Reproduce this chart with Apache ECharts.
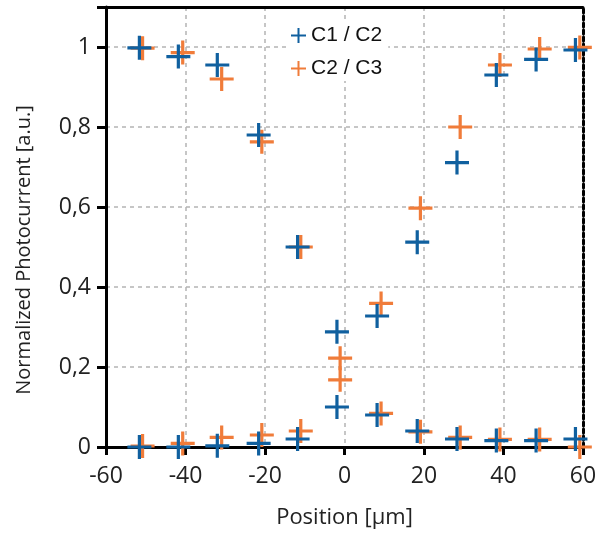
<!DOCTYPE html>
<html>
<head>
<meta charset="utf-8">
<script src="https://cdn.jsdelivr.net/npm/echarts@6/dist/echarts.min.js"></script>
<style>
html,body{margin:0;padding:0;background:#fff;}
#chart{width:606px;height:535px;}
</style>
</head>
<body>
<div id="chart"></div>
<script>
// ---- data ----
const seriesNames = ['C1 / C2', 'C2 / C3'];
const c1Positions = [-51.6, -41.8, -32.0, -21.6, -11.8, -1.9, 8.2, 18.3, 28.3, 38.2, 48.2, 58.1];
const c1FallY = [0.998, 0.976, 0.955, 0.78, 0.50, 0.10, 0.08, 0.04, 0.02, 0.016, 0.016, 0.02];
const c1RiseY = [0.0, 0.0, 0.003, 0.009, 0.02, 0.288, 0.3275, 0.512, 0.711, 0.93, 0.969, 0.9925];
const c2Positions = [-50.8, -40.7, -30.9, -20.8, -11.0, -1.1, 9.2, 19.1, 29.1, 39.1, 49.1, 59.2];
const c2FallY = [0.997, 0.986, 0.92, 0.763, 0.50, 0.222, 0.084, 0.038, 0.024, 0.019, 0.019, 0.0];
const c2RiseY = [0.0025, 0.009, 0.024, 0.03, 0.04, 0.168, 0.359, 0.597, 0.80, 0.955, 0.995, 0.999];
const xTicks = [-60, -40, -20, 0, 20, 40, 60];
const yTicks = [0, 0.2, 0.4, 0.6, 0.8, 1];
const xTitle = 'Position [μm]';
const yTitle = 'Normalized Photocurrent [a.u.]';

function pairs(xs, ys) { return xs.map((x, i) => [x, ys[i]]); }

const plusMarker = 'path://M10.4,0H13.6V10.4H24V13.6H13.6V24H10.4V13.6H0V10.4H10.4Z';
const plusIcon = 'path://M6.5,0H8.5V6.5H15V8.5H8.5V15H6.5V8.5H0V6.5H6.5Z';
const blue = '#10609f';
const orange = '#f07c3a';
const tickFont = '"Open Sans", sans-serif';

const chart = echarts.init(document.getElementById('chart'), null, {renderer: 'canvas'});
chart.setOption({
  animation: false,
  backgroundColor: '#fff',
  grid: {left: 106, right: 23, top: 7, bottom: 88, containLabel: false},
  legend: {
    data: [
      {name: seriesNames[0], icon: plusIcon, itemStyle: {color: blue}},
      {name: seriesNames[1], icon: plusIcon, itemStyle: {color: orange}}
    ],
    orient: 'vertical',
    left: 287, top: 23,
    itemWidth: 15, itemHeight: 15, itemGap: 12,
    backgroundColor: '#fff',
    padding: [2, 6, 2, 4],
    textStyle: {fontFamily: '"Liberation Sans", Arial, sans-serif', fontSize: 21, color: '#111'}
  },
  graphic: [{
    type: 'text', x: 24, y: 250, rotation: Math.PI / 2,
    style: {text: yTitle, fontFamily: tickFont, fontSize: 20, fill: '#222', textAlign: 'center', textVerticalAlign: 'middle'}
  }],
  xAxis: [{
    type: 'value', min: xTicks[0], max: xTicks[xTicks.length - 1], interval: 20,
    name: xTitle, nameLocation: 'middle', nameGap: 60,
    nameTextStyle: {fontFamily: tickFont, fontSize: 22, color: '#222'},
    axisLine: {onZero: false, lineStyle: {color: '#000', width: 3}},
    axisTick: {show: true, length: 8, lineStyle: {color: '#000', width: 3}},
    axisLabel: {fontFamily: tickFont, fontSize: 23, color: '#222', margin: 18},
    splitLine: {show: true, lineStyle: {color: '#b4b4b4', type: [4, 4], width: 1.5}}
  }, {
    type: 'value', position: 'top', min: xTicks[0], max: xTicks[xTicks.length - 1],
    axisLine: {onZero: false, lineStyle: {color: '#000', width: 3}},
    axisTick: {show: false}, axisLabel: {show: false}, splitLine: {show: false}
  }],
  yAxis: [{
    type: 'value', min: 0, max: 1.1, interval: 0.2,
    axisLine: {onZero: false, lineStyle: {color: '#000', width: 3}},
    axisTick: {show: true, length: 9, lineStyle: {color: '#000', width: 3}},
    axisLabel: {
      fontFamily: tickFont, fontSize: 23, color: '#222', margin: 15,
      formatter: v => yTicks.some(t => Math.abs(t - v) < 1e-9) ? String(Math.round(v * 10) / 10).replace('.', ',') : ''
    },
    splitLine: {show: true, lineStyle: {color: '#b4b4b4', type: [4, 4], width: 1.5}}
  }, {
    type: 'value', position: 'right', min: 0, max: 1.1,
    axisLine: {show: true, onZero: false, lineStyle: {color: '#000', width: 3, type: [4, 3]}},
    axisTick: {show: false}, axisLabel: {show: false}, splitLine: {show: false}
  }],
  series: [
    {
      name: seriesNames[1], type: 'scatter', z: 2, clip: false,
      symbol: plusMarker, symbolSize: 24,
      itemStyle: {color: orange, opacity: 1},
      data: pairs(c2Positions, c2FallY).concat(pairs(c2Positions, c2RiseY))
    },
    {
      name: seriesNames[0], type: 'scatter', z: 3, clip: false,
      symbol: plusMarker, symbolSize: 24,
      itemStyle: {color: blue, opacity: 1},
      data: pairs(c1Positions, c1FallY).concat(pairs(c1Positions, c1RiseY))
    }
  ]
});
</script>
</body>
</html>
